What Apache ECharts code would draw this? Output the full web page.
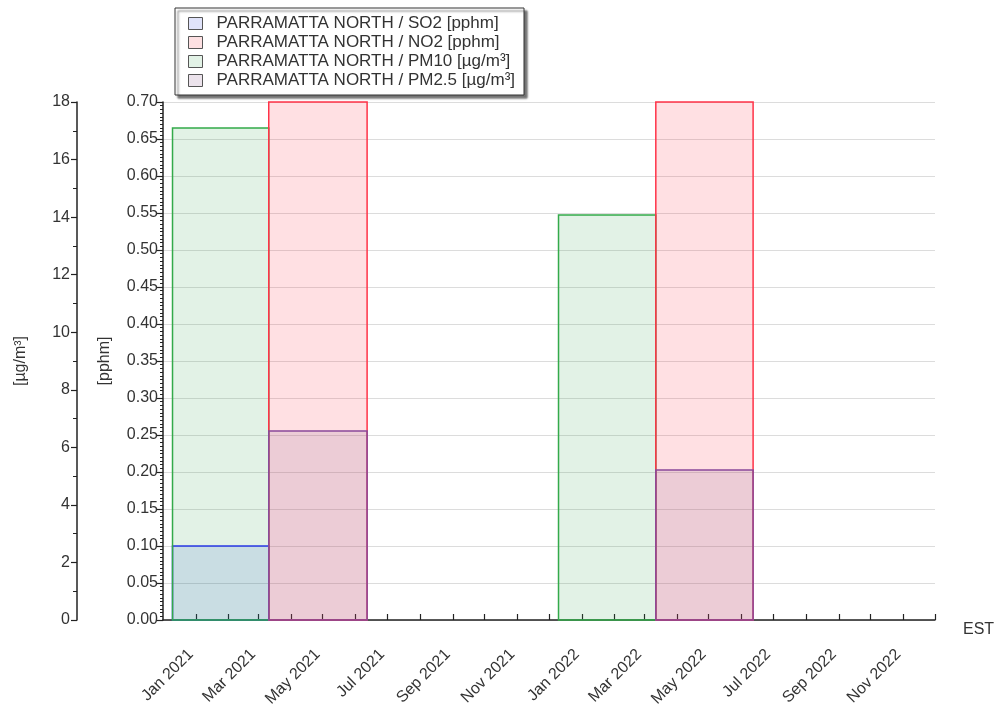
<!DOCTYPE html>
<html>
<head>
<meta charset="utf-8">
<style>
  html, body { margin: 0; padding: 0; background: #fff; }
  #main { width: 997px; height: 708px; }
</style>
<script src="https://cdn.jsdelivr.net/npm/echarts@6.0.0/dist/echarts.min.js"></script>
</head>
<body>
<div id="main"></div>
<script>
// averaging periods (one bar per period)
const periodStart = ['2020-12-10', '2021-03-11', '2021-12-10', '2022-03-12'];
const periodEnd = ['2021-03-11', '2021-06-12', '2022-03-12', '2022-06-12'];

// values per period, null = no bar
const so2 = [0.10, null, null, null];     // pphm
const no2 = [null, 0.70, null, 0.70];     // pphm
const pm10 = [17.1, null, 14.07, null];   // µg/m³
const pm25 = [null, 6.57, null, 5.21];    // µg/m³

// x axis labels (every second month)
const labelMonths = ['2021-01', '2021-03', '2021-05', '2021-07', '2021-09', '2021-11',
  '2022-01', '2022-03', '2022-05', '2022-07', '2022-09', '2022-11'];
const monthNames = ['Jan', 'Feb', 'Mar', 'Apr', 'May', 'Jun', 'Jul', 'Aug', 'Sep', 'Oct', 'Nov', 'Dec'];

const font = "'Liberation Sans', Arial, sans-serif";

function ts(s) {
  const p = s.split('-').map(Number);
  return Date.UTC(p[0], p[1] - 1, p[2] || 1);
}

// monthly tick marks, Jan 2021 .. Dec 2022
const tickValues = [];
for (let y = 2021; y <= 2022; y++) {
  for (let m = 0; m < 12; m++) tickValues.push(Date.UTC(y, m, 1));
}

function rows(values) {
  const out = [];
  values.forEach((v, i) => {
    if (v != null) out.push([ts(periodStart[i]), ts(periodEnd[i]), v]);
  });
  return out;
}

function boxSeries(name, values, yIdx, fill, stroke, legendFill) {
  return {
    name: name,
    type: 'custom',
    yAxisIndex: yIdx,
    clip: false,
    itemStyle: { color: legendFill, borderColor: '#555', borderWidth: 1 },
    encode: { x: [0, 1], y: 2 },
    data: rows(values),
    renderItem: function (params, api) {
      const p0 = api.coord([api.value(0), api.value(2)]);
      const p1 = api.coord([api.value(1), 0]);
      return {
        type: 'rect',
        shape: { x: p0[0], y: p0[1], width: p1[0] - p0[0], height: p1[1] - p0[1] },
        style: { fill: fill, stroke: stroke, lineWidth: 1.5 }
      };
    }
  };
}

const legendItems = [
  { name: 'PARRAMATTA NORTH / SO2 [pphm]', color: '#e0e3fa' },
  { name: 'PARRAMATTA NORTH / NO2 [pphm]', color: '#fde0e2' },
  { name: 'PARRAMATTA NORTH / PM10 [µg/m³]', color: '#e2f2e6' },
  { name: 'PARRAMATTA NORTH / PM2.5 [µg/m³]', color: '#ece3ec' }
];

const chart = echarts.init(document.getElementById('main'));
chart.setOption({
  animation: false,
  textStyle: { fontFamily: font },
  grid: { left: 163, right: 62, top: 102, bottom: 88, containLabel: false, outerBoundsMode: 'none' },
  legend: {
    orient: 'vertical',
    left: 175,
    top: 8,
    icon: 'rect',
    itemWidth: 14,
    itemHeight: 12,
    itemGap: 2,
    padding: [7, 9, 6, 13],
    backgroundColor: '#fff',
    borderColor: '#333',
    borderWidth: 1,
    shadowColor: 'rgba(0,0,0,0.55)',
    shadowBlur: 2,
    shadowOffsetX: 3,
    shadowOffsetY: 3,
    selectedMode: false,
    textStyle: { fontFamily: font, fontSize: 17, color: '#333', lineHeight: 17, padding: [0, 0, 0, 9] },
    data: legendItems.map(d => ({
      name: d.name,
      itemStyle: { color: d.color, borderColor: '#555', borderWidth: 1 }
    }))
  },
  xAxis: {
    type: 'value',
    min: ts('2020-12-01'),
    max: ts('2022-12-01'),
    name: 'EST',
    nameLocation: 'end',
    nameGap: 28,
    nameTextStyle: { fontFamily: font, fontSize: 16, color: '#333', verticalAlign: 'top', padding: [2, 0, 0, 0] },
    axisLine: { show: true, lineStyle: { color: '#222', width: 1.5 } },
    axisTick: { show: true, inside: true, length: 6, customValues: tickValues, lineStyle: { color: '#222', width: 1.2 } },
    axisLabel: {
      customValues: labelMonths.map(ts),
      rotate: 45,
      margin: 27,
      padding: [0, 7, 0, 0],
      fontFamily: font,
      fontSize: 16,
      color: '#333',
      formatter: function (v) {
        const d = new Date(v);
        return monthNames[d.getUTCMonth()] + ' ' + d.getUTCFullYear();
      }
    },
    splitLine: { show: false },
    minorTick: { show: false }
  },
  yAxis: [{
    type: 'value',
    position: 'left',
    min: 0,
    max: 0.7,
    interval: 0.05,
    name: '[pphm]',
    nameLocation: 'middle',
    nameRotate: 90,
    nameGap: 50,
    nameTextStyle: { fontFamily: font, fontSize: 16, color: '#333' },
    axisLine: { show: true, lineStyle: { color: '#222', width: 1.5 } },
    axisTick: { show: true, length: 6, lineStyle: { color: '#222', width: 1.2 } },
    minorTick: { show: true, splitNumber: 10, length: 3, lineStyle: { color: '#222', width: 1 } },
    axisLabel: {
      fontFamily: font, fontSize: 16, color: '#333', margin: 5,
      formatter: v => v.toFixed(2)
    },
    splitLine: { show: true, lineStyle: { color: '#dcdcdc', width: 1.2 } }
  }, {
    type: 'value',
    position: 'left',
    offset: 86,
    min: 0,
    max: 18,
    interval: 2,
    name: '[µg/m³]',
    nameLocation: 'middle',
    nameRotate: 90,
    nameGap: 48,
    nameTextStyle: { fontFamily: font, fontSize: 16, color: '#333' },
    axisLine: { show: true, lineStyle: { color: '#222', width: 1.5 } },
    axisTick: { show: true, length: 6, lineStyle: { color: '#222', width: 1.2 } },
    minorTick: { show: true, splitNumber: 2, length: 4, lineStyle: { color: '#222', width: 1 } },
    axisLabel: { fontFamily: font, fontSize: 16, color: '#333', margin: 7 },
    splitLine: { show: false }
  }],
  series: [
    boxSeries(legendItems[0].name, so2, 0, 'rgba(20,50,220,0.12)', '#2a2aff', legendItems[0].color),
    boxSeries(legendItems[2].name, pm10, 1, 'rgba(50,160,80,0.14)', '#33aa4a', legendItems[2].color),
    boxSeries(legendItems[1].name, no2, 0, 'rgba(255,50,70,0.15)', '#ff3348', legendItems[1].color),
    boxSeries(legendItems[3].name, pm25, 1, 'rgba(128,97,140,0.15)', '#8a4a9a', legendItems[3].color)
  ]
});
</script>
</body>
</html>
